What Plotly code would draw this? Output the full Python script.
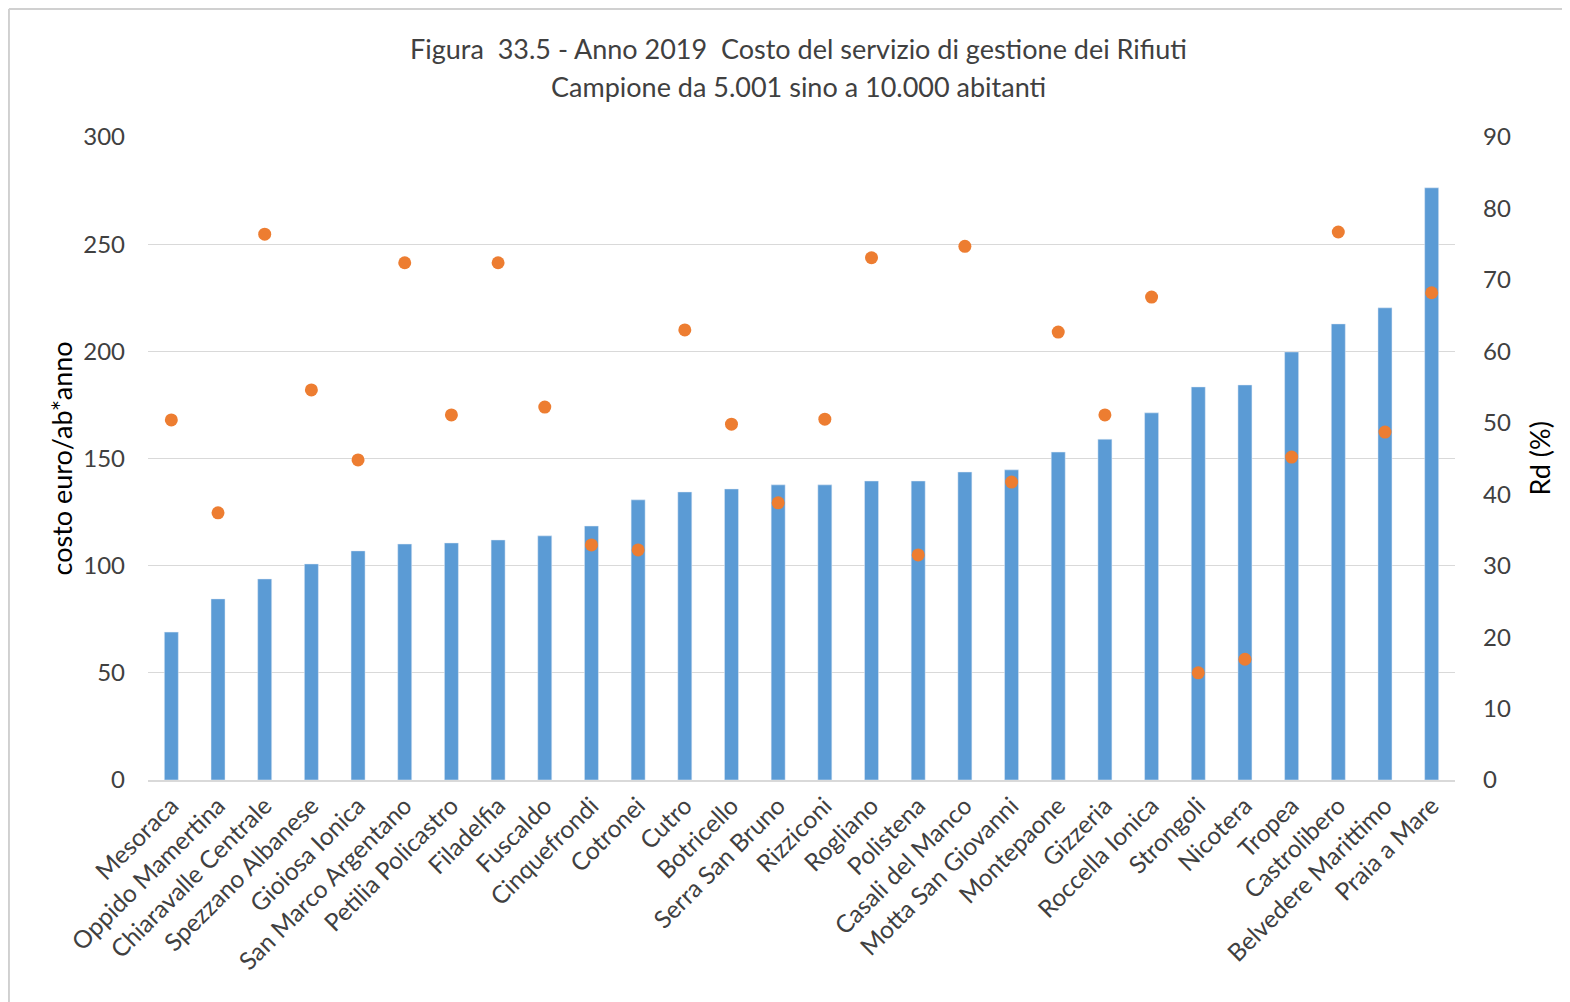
import plotly.graph_objects as go

# Comuni (ordinati per costo crescente)
comuni = [
    "Mesoraca", "Oppido Mamertina", "Chiaravalle Centrale", "Spezzano Albanese",
    "Gioiosa Ionica", "San Marco Argentano", "Petilia Policastro", "Filadelfia",
    "Fuscaldo", "Cinquefrondi", "Cotronei", "Cutro", "Botricello", "Serra San Bruno",
    "Rizziconi", "Rogliano", "Polistena", "Casali del Manco", "Motta San Giovanni",
    "Montepaone", "Gizzeria", "Roccella Ionica", "Strongoli", "Nicotera", "Tropea",
    "Castrolibero", "Belvedere Marittimo", "Praia a Mare",
]

# costo euro/ab*anno
costo = [
    69, 84.5, 93.8, 100.8, 106.9, 110.1, 110.6, 112.0, 113.9, 118.5, 130.7, 134.4,
    135.8, 137.7, 137.7, 139.5, 139.5, 143.7, 144.7, 153.0, 159.0, 171.3, 183.4,
    184.3, 199.7, 212.8, 220.3, 276.3,
]

# raccolta differenziata (%)
rd = [
    50.4, 37.4, 76.4, 54.6, 44.8, 72.4, 51.1, 72.4, 52.2, 32.9, 32.2, 63.0, 49.8,
    38.8, 50.5, 73.1, 31.5, 74.7, 41.7, 62.7, 51.1, 67.6, 15.0, 16.9, 45.2, 76.7,
    48.7, 68.2,
]

title_1 = "Figura\u00a0 33.5 - Anno 2019\u00a0 Costo del servizio di gestione dei Rifiuti"
title_2 = "Campione da 5.001 sino a 10.000 abitanti"

FONT = "Lato"
TXT = "#404040"
BORDER = "#D0D0D0"

fig = go.Figure()
fig.add_trace(go.Bar(x=comuni, y=costo, marker_color="#5B9BD5", name="costo"))
fig.add_trace(go.Scatter(
    x=comuni, y=rd, yaxis="y2", mode="markers", name="Rd",
    marker=dict(color="#ED7D31", size=13),
))

# the page body has an 8px margin, so the figure is 8px smaller and margins shifted
fig.update_layout(
    width=1562, height=994,
    margin=dict(l=140, r=115, t=129, b=222),
    paper_bgcolor="white", plot_bgcolor="white",
    showlegend=False,
    bargap=0.70,
    font=dict(family=FONT, size=23, color=TXT),
    xaxis=dict(
        range=[-0.5, len(comuni) - 0.5],
        tickangle=-45, automargin=False, showgrid=False, ticks="",
        showline=True, linecolor="#D9D9D9", linewidth=1.5,
        tickfont=dict(size=24.5, color=TXT),
    ),
    yaxis=dict(
        range=[0, 300], dtick=50, gridcolor="#D9D9D9", gridwidth=1.3,
        zeroline=False, automargin=False, ticklabelstandoff=22,
        tickfont=dict(size=24, color=TXT),
    ),
    yaxis2=dict(
        range=[0, 90], dtick=10, overlaying="y", side="right", showgrid=False,
        zeroline=False, automargin=False, ticklabelstandoff=27,
        tickfont=dict(size=24, color=TXT),
    ),
    annotations=[
        dict(text=title_1,
             xref="paper", yref="paper", x=0.4975, y=1.1369, showarrow=False,
             xanchor="center", yanchor="middle", font=dict(size=27, color=TXT)),
        dict(text=title_2,
             xref="paper", yref="paper", x=0.4975, y=1.0778, showarrow=False,
             xanchor="center", yanchor="middle", font=dict(size=27, color=TXT)),
        dict(text="costo euro/ab*anno", textangle=-90,
             xref="paper", yref="paper", x=-0.0658, y=0.5, showarrow=False,
             xanchor="center", yanchor="middle", font=dict(size=27, color="#000000")),
        dict(text="Rd (%)", textangle=-90,
             xref="paper", yref="paper", x=1.065, y=0.5, showarrow=False,
             xanchor="center", yanchor="middle", font=dict(size=27, color="#000000")),
    ],
    shapes=[
        # chart-area border: only top and left edges are visible in the original
        dict(type="line", xref="paper", yref="paper",
             x0=-0.1064, x1=1.088, y0=1.1991, y1=1.1991,
             line=dict(color=BORDER, width=2)),
        dict(type="line", xref="paper", yref="paper",
             x0=-0.1064, x1=-0.1064, y0=1.1991, y1=-0.3453,
             line=dict(color=BORDER, width=2)),
    ],
)

fig.write_html("out.html")
